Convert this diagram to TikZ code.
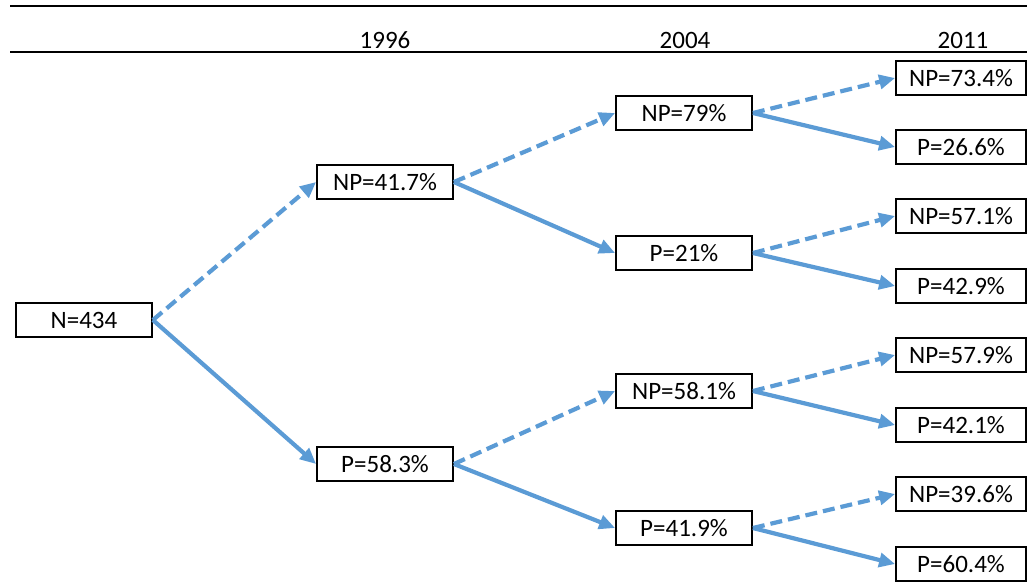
\documentclass[tikz,border=0pt]{standalone}
\usepackage{fontspec}
\setmainfont{Carlito}
\usetikzlibrary{arrows.meta}
\definecolor{arr}{RGB}{91,155,213}
\begin{document}
\begin{tikzpicture}[x=1pt,y=-1pt,
  box/.style={draw=black,line width=1.8pt,minimum width=136pt,minimum height=34pt,inner sep=0pt,font=\fontsize{25}{28}\selectfont},
  rbox/.style={box,minimum width=130pt},
  hdr/.style={font=\fontsize{25}{28}\selectfont,anchor=base},
  link/.style={draw=arr,line width=4.2pt,-{Triangle[length=16pt,width=14pt]}},
  dlink/.style={link,dash pattern=on 12pt off 6pt}]
\useasboundingbox (0,0) rectangle (1027,584);
\coordinate (t1) at (10,6); \coordinate (t2) at (1027,6);
\coordinate (b1) at (10,52); \coordinate (b2) at (1027,52);
\draw[line width=2.2pt] (t1) -- (t2);
\draw[line width=2.2pt] (b1) -- (b2);
\node[hdr] (h1) at (385,48) {1996};
\node[hdr] (h2) at (685,48) {2004};
\node[hdr] (h3) at (963,48) {2011};
\node[box] (n) at (84,320) {N=434};
\node[box] (a1) at (385,182) {NP=41.7\%};
\node[box] (a2) at (385,464) {P=58.3\%};
\node[box] (b1n) at (684,113) {NP=79\%};
\node[box] (b1p) at (684,253) {P=21\%};
\node[box] (b2n) at (684,391) {NP=58.1\%};
\node[box] (b2p) at (684,528) {P=41.9\%};
\node[rbox] (c1) at (961,78) {NP=73.4\%};
\node[rbox] (c2) at (961,147) {P=26.6\%};
\node[rbox] (c3) at (961,216) {NP=57.1\%};
\node[rbox] (c4) at (961,286) {P=42.9\%};
\node[rbox] (c5) at (961,355) {NP=57.9\%};
\node[rbox] (c6) at (961,425) {P=42.1\%};
\node[rbox] (c7) at (961,494) {NP=39.6\%};
\node[rbox] (c8) at (961,564) {P=60.4\%};
\draw[dlink] (n.east) -- (a1.west);
\draw[link] (n.east) -- (a2.west);
\draw[dlink] (a1.east) -- (b1n.west);
\draw[link] (a1.east) -- (b1p.west);
\draw[dlink] (a2.east) -- (b2n.west);
\draw[link] (a2.east) -- (b2p.west);
\draw[dlink] (b1n.east) -- (c1.west);
\draw[link] (b1n.east) -- (c2.west);
\draw[dlink] (b1p.east) -- (c3.west);
\draw[link] (b1p.east) -- (c4.west);
\draw[dlink] (b2n.east) -- (c5.west);
\draw[link] (b2n.east) -- (c6.west);
\draw[dlink] (b2p.east) -- (c7.west);
\draw[link] (b2p.east) -- (c8.west);
\end{tikzpicture}
\end{document}
